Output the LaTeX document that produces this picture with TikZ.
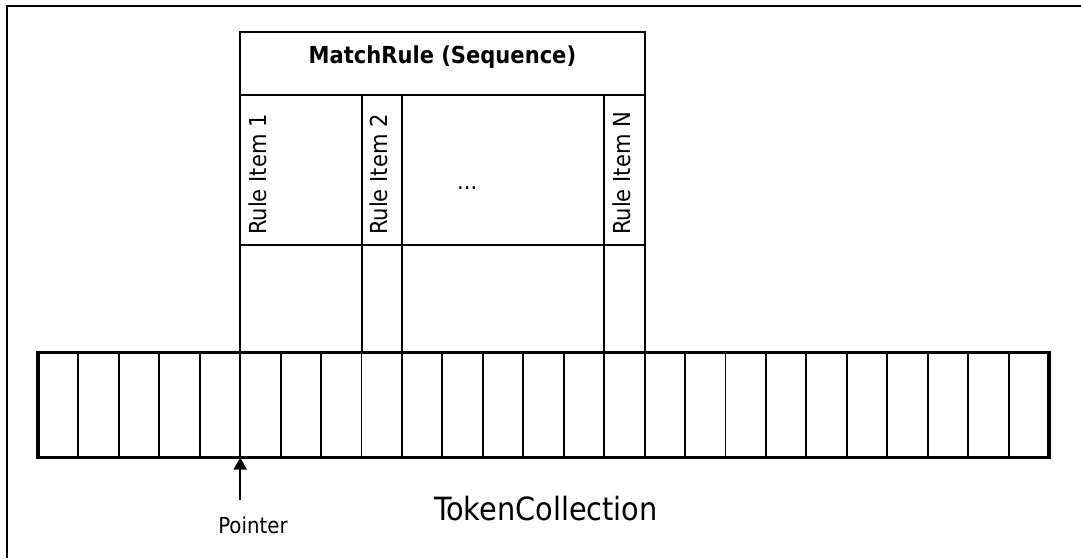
\documentclass[tikz,border=0pt]{standalone}
\usepackage{fontspec}
\setmainfont{DejaVu Sans Condensed}
\usetikzlibrary{arrows.meta}
\begin{document}
\begin{tikzpicture}[x=1pt,y=-1pt,
  frame/.style={line width=2.2pt},
  tokbox/.style={draw,line width=3.2pt,minimum width=1011pt,minimum height=105pt,inner sep=0pt,outer sep=0pt},
  cellline/.style={line width=1.9pt},
  ruleline/.style={line width=2pt},
  lbl/.style={font=\fontsize{23.4}{28}\selectfont,inner sep=0pt},
  ttl/.style={font=\fontsize{23.4}{28}\selectfont\bfseries,inner sep=0pt,anchor=base},
  vlbl/.style={lbl,rotate=90,anchor=base west},
  big/.style={font=\fontsize{32}{38}\selectfont,inner sep=0pt,anchor=base},
  ptr/.style={line width=1.7pt,-{Triangle[length=12pt,width=13pt]}}
]
\useasboundingbox (0,0) rectangle (1081,558);
% outer frame (only top and left edges visible)
\draw[frame] (1081,6) -- (7,6) -- (7,558);
% token collection
\node[tokbox] (tokens) at (543.5,405) {};
\foreach \i in {1,...,24}
  \draw[cellline] ([xshift=\i*40.44pt]tokens.north west) -- ([xshift=\i*40.44pt]tokens.south west);
% MatchRule box
\draw[ruleline] (240.2,352.5) -- (240.2,32) -- (644.6,32) -- (644.6,352.5);
\draw[ruleline] (240.2,95) -- (644.6,95);
\draw[ruleline] (240.2,245) -- (644.6,245);
\foreach \x in {361.5,402,604.2}
  \draw[ruleline] (\x,95) -- (\x,352.5);
\node[ttl] (title) at (442.4,63.3) {MatchRule (Sequence)};
\node[vlbl] (r1) at (266,235) {Rule Item 1};
\node[vlbl] (r2) at (387,235) {Rule Item 2};
\node[vlbl] (rn) at (630,235) {Rule Item N};
\node[lbl,anchor=base west] (dots) at (457,189) {...};
% pointer
\coordinate (ptrtail) at (240.2,500);
\draw[ptr] (ptrtail) -- (ptrtail |- tokens.south);
\node[lbl,font=\fontsize{22}{26}\selectfont,anchor=base] (ptrlabel) at (253,533) {Pointer};
\node[big] (tc) at (546,520) {TokenCollection};
\end{tikzpicture}
\end{document}
